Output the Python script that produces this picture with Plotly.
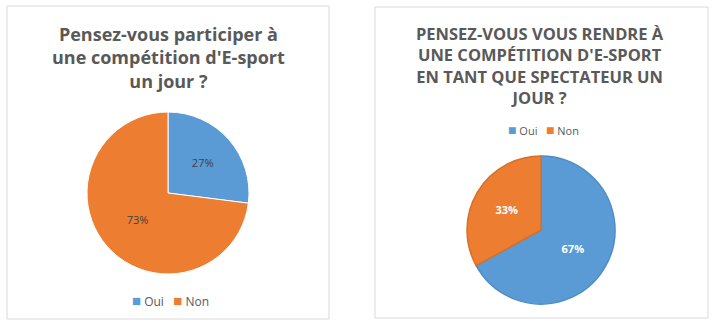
import plotly.graph_objects as go

labels = ["Oui", "Non"]
participer_values = [27, 73]
spectateur_values = [67, 33]
title_left = "Pensez-vous participer à<br>une compétition d'E-sport<br>un jour ?"
title_right = "PENSEZ-VOUS VOUS RENDRE À<br>UNE COMPÉTITION D'E-SPORT<br>EN TANT QUE SPECTATEUR UN<br>JOUR ?"

BLUE = "#5B9BD5"
ORANGE = "#ED7D31"
COLORS = [BLUE, ORANGE]
W, H = 716, 328

def px_x(x):
    return x / W

def px_y(y):
    return 1 - y / H

def legend_text(labs, cols, sq):
    parts = [f"<span style='color:{c};font-size:{sq}px'>■</span> {l}" for l, c in zip(labs, cols)]
    return "   ".join(parts)

fig = go.Figure()

# left pie
cx, cy, r = 168, 193, 81
fig.add_trace(go.Pie(
    labels=labels, values=participer_values, sort=False, direction="clockwise",
    rotation=0, textinfo="percent", textposition="inside",
    insidetextorientation="horizontal",
    textfont=dict(family="Open Sans", size=11, color="#404040"),
    marker=dict(colors=COLORS, line=dict(color="#ffffff", width=1)),
    domain=dict(x=[px_x(cx - r), px_x(cx + r)], y=[px_y(cy + r), px_y(cy - r)]),
    showlegend=False, hoverinfo="label+percent",
))

# right pie
cx2, cy2, r2 = 541, 230, 74
fig.add_trace(go.Pie(
    labels=labels, values=spectateur_values, sort=False, direction="clockwise",
    rotation=0, textinfo="percent", textposition="inside",
    insidetextorientation="horizontal",
    textfont=dict(family="Open Sans", size=11, color="#ffffff", weight="bold"),
    marker=dict(colors=COLORS, line=dict(color=["#4f8cc4", "#d86f28"], width=1.5)),
    domain=dict(x=[px_x(cx2 - r2), px_x(cx2 + r2)], y=[px_y(cy2 + r2), px_y(cy2 - r2)]),
    showlegend=False, hoverinfo="label+percent",
))

shapes = [
    dict(type="rect", xref="paper", yref="paper",
         x0=px_x(7), x1=px_x(329), y0=px_y(319), y1=px_y(6),
         line=dict(color="#d9d9d9", width=1), fillcolor="rgba(0,0,0,0)"),
    dict(type="rect", xref="paper", yref="paper",
         x0=px_x(375), x1=px_x(708), y0=px_y(318), y1=px_y(7),
         line=dict(color="#d9d9d9", width=1), fillcolor="rgba(0,0,0,0)"),
]

annotations = [
    dict(text=title_left, x=px_x(168), y=px_y(57), xref="paper", yref="paper",
         xanchor="center", yanchor="middle", showarrow=False, align="center",
         font=dict(family="Open Sans", size=18, color="#595959", weight="bold")),
    dict(text=title_right, x=px_x(540), y=px_y(65), xref="paper", yref="paper",
         xanchor="center", yanchor="middle", showarrow=False, align="center",
         font=dict(family="Open Sans", size=16.5, color="#595959", weight="bold")),
    dict(text=legend_text(labels, COLORS, 15), x=px_x(170), y=px_y(300), xref="paper", yref="paper",
         xanchor="center", yanchor="middle", showarrow=False,
         font=dict(family="Open Sans", size=12, color="#595959")),
    dict(text=legend_text(labels, COLORS, 14), x=px_x(543), y=px_y(129), xref="paper", yref="paper",
         xanchor="center", yanchor="middle", showarrow=False,
         font=dict(family="Open Sans", size=11, color="#595959")),
]

fig.update_layout(
    width=W, height=H, margin=dict(l=0, r=0, t=0, b=0),
    paper_bgcolor="white", plot_bgcolor="white",
    shapes=shapes, annotations=annotations,
    showlegend=False,
)

fig.write_html("out.html")
